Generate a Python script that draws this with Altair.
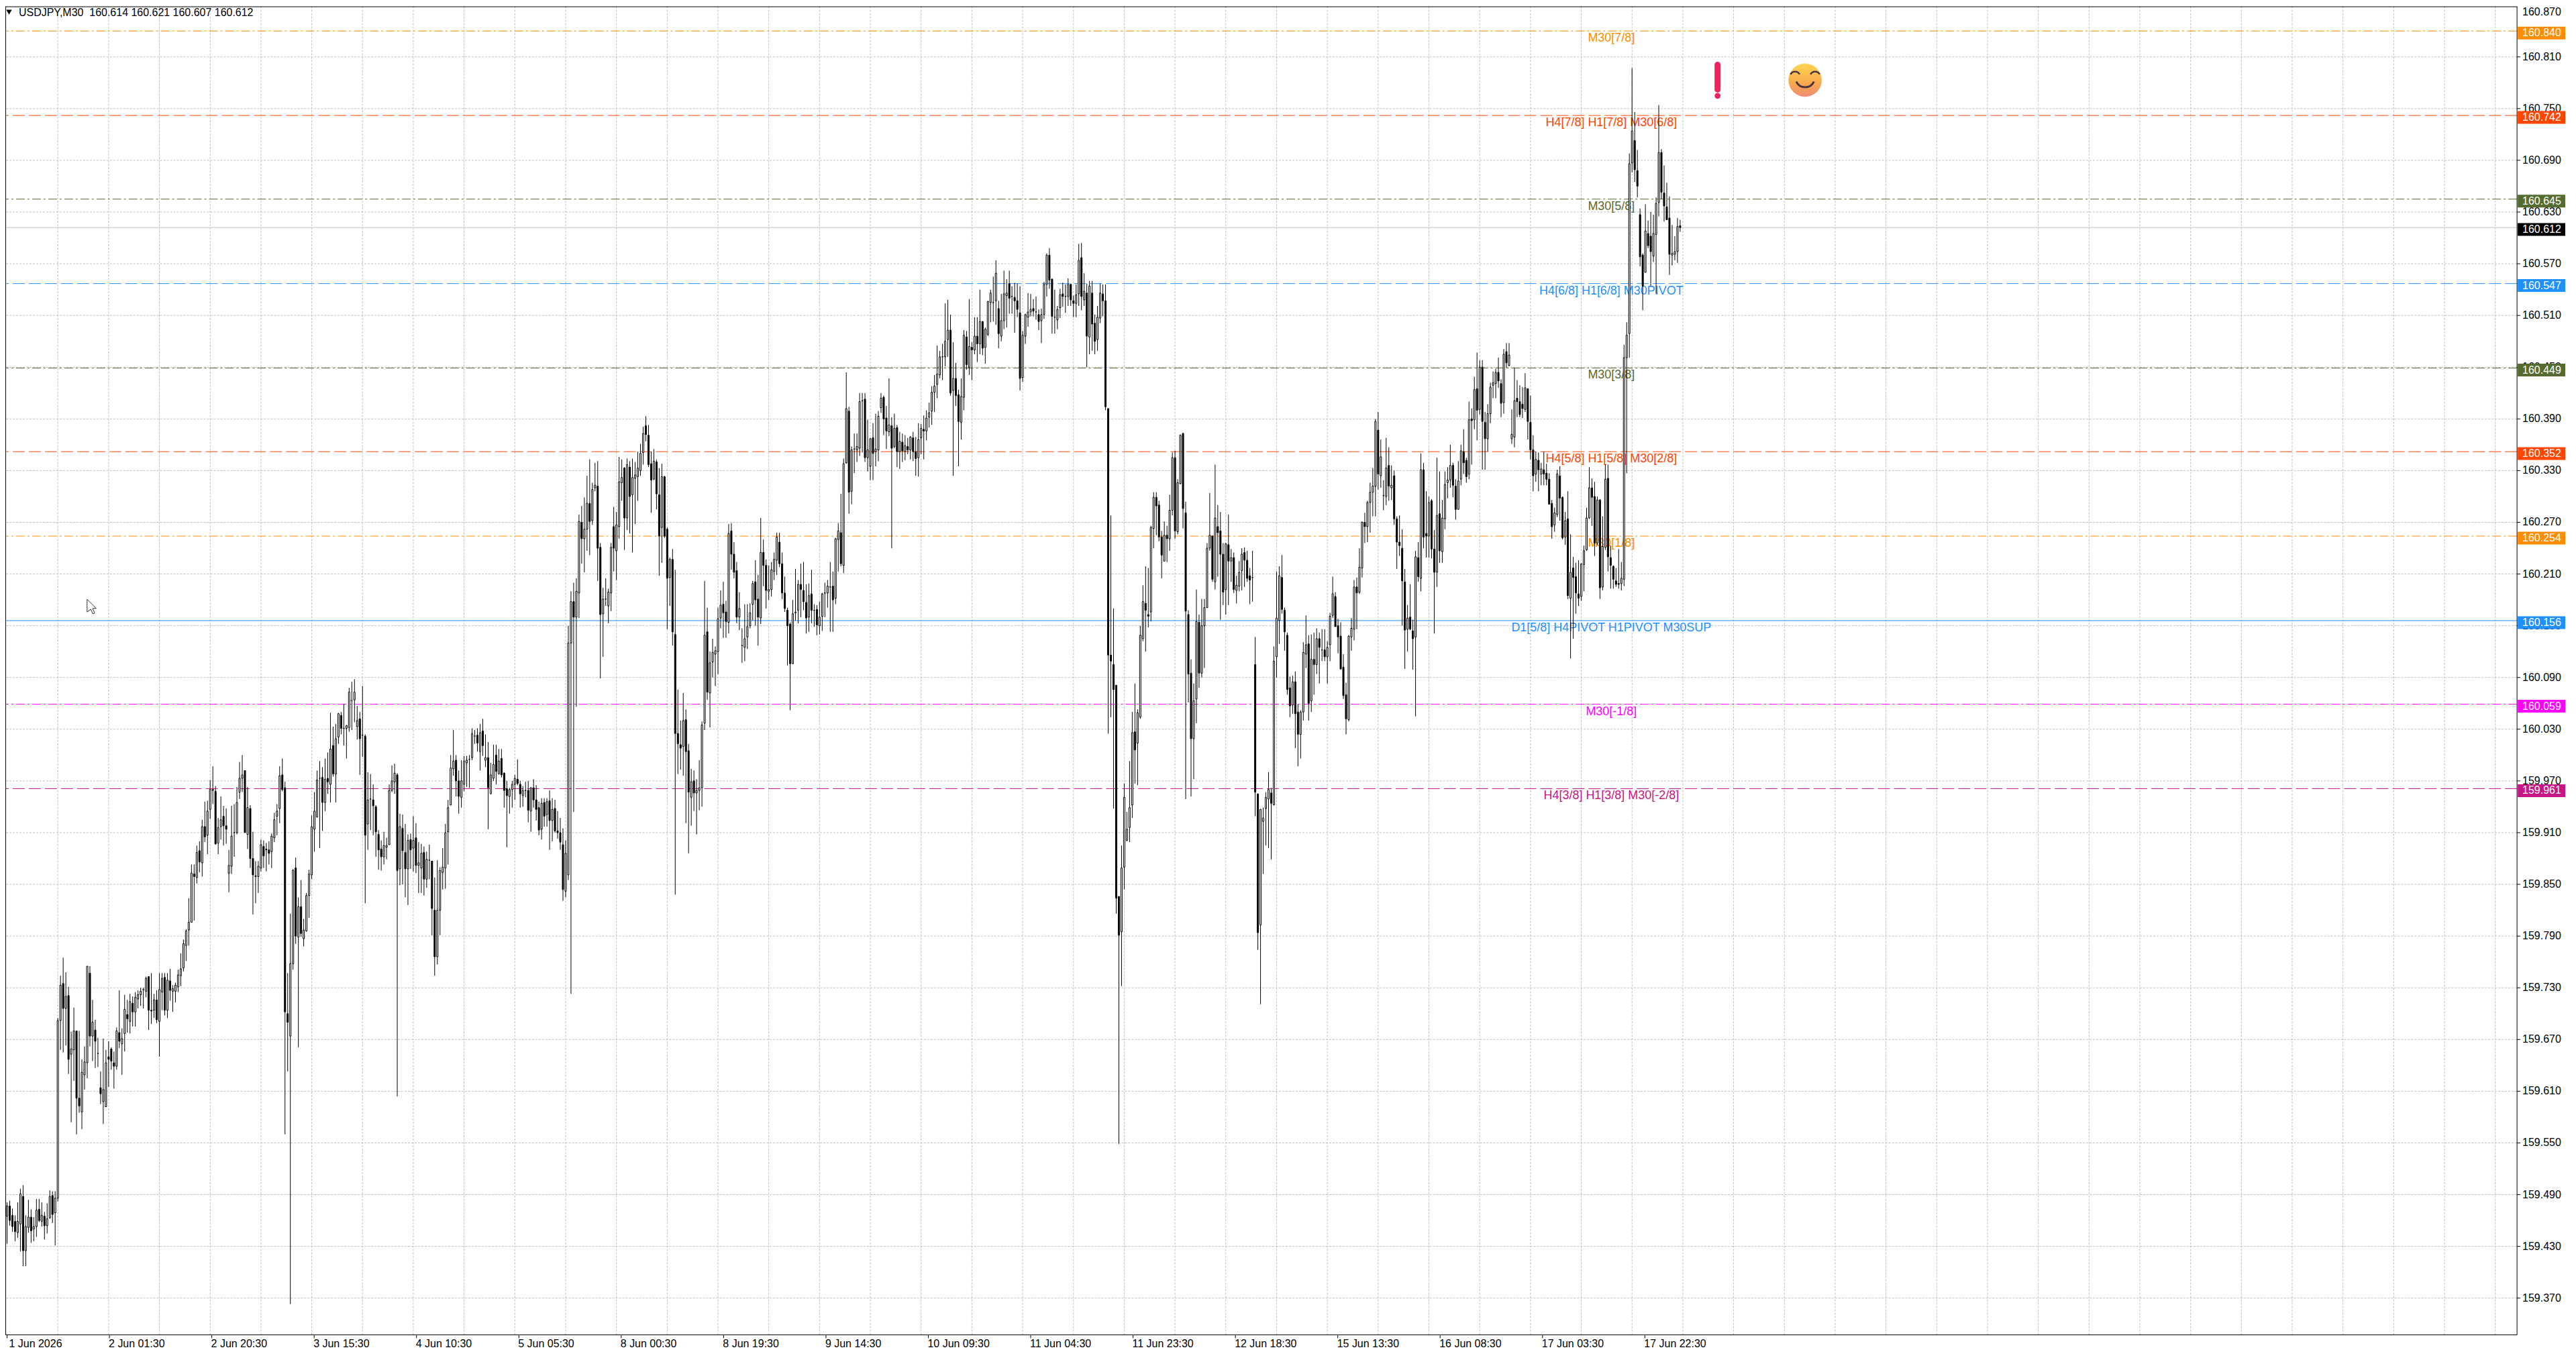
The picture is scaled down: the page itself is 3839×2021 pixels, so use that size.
import altair as alt
import pandas as pd

# Each bar: open, close, high, low, in thousandths of a yen above 159
seg_a = [(465,477,481,433),(477,460,483,454),(466,453,474,447),(459,447,466,436),(446,459,481,440),(456,491,497,424),(488,425,501,407),(425,453,466,407),(452,464,484,446),(464,448,473,434),
(450,453,464,436),(453,472,485,441),(473,460,485,458),(459,466,481,453),(465,454,470,438),(454,462,480,445),(463,488,495,462),(489,467,494,457),(469,486,494,431),(486,692,695,482),
(692,733,744,658),(735,706,765,655),(706,720,748,663),(721,647,731,630),(653,659,679,574),(658,680,707,622),(680,602,680,560),(602,593,680,585),(586,632,647,566),(629,644,662,612),
(643,755,755,625),(747,674,755,662),(674,690,716,645),(681,668,693,637),(654,654,672,638),(614,607,633,595),(598,612,671,572),(592,643,658,592),(650,647,668,615),(659,645,661,635)]
seg_b = [(643,639,656,613),(639,680,684,635),(678,668,727,660),(665,671,683,629),(677,705,722,656),(699,694,716,678),(691,714,723,677),(712,702,720,685),(702,719,725,685),(717,722,727,706),
(722,726,730,709),(728,728,730,706),(726,741,743,719),(743,704,743,681),(704,703,747,688),(704,716,723,695),(716,693,727,689),(691,728,747,650),(725,741,747,704),(742,704,747,698),
(704,739,747,695),(738,727,752,715),(726,729,733,702),(726,733,736,713),(731,745,751,725),(744,752,770,732),(753,781,786,749),(779,796,798,761),(797,806,834,779),(806,863,873,806),
(862,859,873,808),(858,887,895,851),(889,876,900,864),(875,917,925,859),(917,905,946,899),(907,935,947,885),(937,960,971,926),(960,959,987,943),(958,897,964,896),(898,916,927,885)]
seg_c = [(917,925,952,902),(929,918,941,895),(918,914,938,897),(863,872,890,841),(871,906,941,862),(910,910,943,882),(910,945,963,908),(957,973,992,949),(973,977,1000,957),(982,910,982,910),
(908,939,963,891),(938,880,942,869),(880,861,911,815),(860,859,877,828),(859,871,877,840),(869,896,902,865),(894,883,901,869),(891,890,898,865),(890,886,900,873),(888,906,909,869),
(904,925,933,899),(929,935,943,907),(938,976,987,921),(977,960,996,958),(962,702,969,560),(700,690,747,633),(674,758,816,363),(758,866,868,751),(869,790,881,781),(789,824,835,661),
(824,793,855,789),(787,797,810,778),(796,837,840,795),(837,862,867,811),(861,917,930,856),(914,935,957,888),(928,971,982,928),(973,973,993,892),(974,945,986,912),(945,972,996,935)]
seg_d = [(973,969,1003,955),(966,1007,1049,945),(1011,978,1033,975),(978,1019,1036,945),(1021,1048,1049,1013),(1046,1031,1050,1024),(1031,1031,1059,1011),(1031,1034,1035,996),(1032,1073,1078,1027),(1063,1063,1085,1029),
(1064,1073,1088,1038),(1033,1040,1057,1018),(1042,1019,1050,977),(1023,1023,1080,998),(1022,907,1024,828),(920,948,980,890),(949,949,978,913),(948,941,966,907),(940,911,942,882),(908,890,913,867),
(891,882,901,866),(882,895,911,873),(893,895,904,879),(896,959,966,896),(959,970,988,957),(969,979,990,955),(977,866,979,604),(868,917,932,849),(915,889,931,850),(887,868,920,835),
(868,901,908,826),(902,890,909,868),(892,901,929,865),(904,872,921,863),(872,875,899,840),(869,886,897,840),(887,856,894,837),(856,879,888,846),(878,878,896,856),(877,822,877,791)]
seg_e = [(820,766,858,744),(766,820,878,757),(820,866,870,791),(864,870,892,844),(869,910,920,845),(911,939,948,873),(942,985,1000,942),(984,993,1029,976),(994,970,1000,952),(970,952,982,932),
(951,970,994,939),(966,993,999,958),(991,994,999,963),(995,995,1000,962),(997,1025,1031,994),(1022,1022,1029,1013),(1023,1014,1031,1004),(1004,1026,1036,982),(1028,1011,1042,999),(994,997,1024,986),
(997,962,1015,914),(955,977,991,955),(973,989,1012,970),(1000,981,1012,966),(978,993,1007,978),(996,977,1007,974),(979,959,980,939),(961,953,970,893),(952,960,962,932),(960,966,970,939),
(966,973,977,948),(972,967,995,965),(966,955,970,939),(953,959,964,940),(959,959,969,951),(959,936,970,922),(935,962,963,911),(962,948,972,939),(948,937,965,924),(939,913,946,907)]
seg_f = [(914,944,950,902),(945,929,950,917),(931,946,950,917),(947,924,959,890),(924,937,950,900),(938,912,948,910),(912,910,935,903),(910,899,927,890),(896,844,915,831),(842,886,901,835),
(861,1130,1150,855),(1130,1178,1190,723),(1178,1160,1200,934),(1160,1190,1205,1056),(1188,1271,1279,1159),(1270,1251,1289,1222),(1251,1262,1299,1212),(1262,1292,1324,1237),(1292,1271,1343,1232),(1272,1308,1316,1267),
(1310,1313,1339,1306),(1312,1240,1341,1202),(1241,1163,1246,1089),(1164,1181,1194,1114),(1181,1181,1205,1173),(1173,1189,1193,1153),(1188,1241,1246,1167),(1265,1240,1288,1213),(1237,1267,1282,1203),(1265,1317,1346,1251),
(1316,1322,1343,1295),(1333,1275,1334,1238),(1275,1337,1344,1261),(1334,1300,1341,1257),(1302,1322,1344,1235),(1321,1325,1340,1268),(1323,1333,1352,1295),(1330,1350,1361,1324),(1351,1373,1381,1337),(1382,1372,1393,1364)]
seg_g = [(1371,1337,1383,1334),(1338,1319,1352,1281),(1320,1341,1355,1319),(1340,1303,1343,1285),(1302,1254,1333,1208),(1264,1323,1338,1223),(1323,1254,1324,1252),(1262,1205,1264,1146),(1206,1227,1229,1173),(1227,1143,1239,1127),
(1140,1025,1215,838),(1025,1013,1076,978),(1012,1008,1040,983),(1010,1040,1072,976),(1041,1004,1053,921),(1005,957,1013,886),(951,969,984,918),(970,956,982,935),(956,959,972,908),(959,962,994,936),
(962,1035,1039,940),(1037,1139,1202,1029),(1143,1073,1171,1064),(1072,1107,1120,1032),(1108,1119,1135,1090),(1117,1121,1126,1080),(1120,1158,1171,1094),(1159,1174,1191,1147),(1175,1165,1201,1136),(1166,1155,1179,1136),
(1154,1257,1268,1141),(1260,1233,1269,1215),(1233,1212,1247,1205),(1214,1160,1224,1153),(1160,1170,1189,1145),(1127,1127,1147,1107),(1125,1135,1175,1109),(1137,1149,1175,1123),(1150,1165,1176,1147),(1175,1199,1202,1156)]
seg_h = [(1201,1180,1226,1150),(1181,1160,1209,1127),(1159,1235,1275,1152),(1235,1220,1250,1196),(1220,1191,1227,1170),(1190,1192,1220,1180),(1192,1215,1224,1184),(1213,1227,1235,1203),(1226,1253,1258,1209),(1247,1222,1258,1218),
(1222,1188,1235,1181),(1188,1170,1207,1166),(1168,1150,1171,1104),(1152,1106,1154,1052),(1106,1164,1180,1106),(1165,1166,1216,1156),(1168,1198,1203,1153),(1198,1192,1222,1160),(1191,1178,1224,1168),(1177,1159,1198,1141),
(1160,1185,1199,1143),(1187,1168,1215,1153),(1168,1168,1175,1149),(1169,1151,1174,1139),(1150,1160,1178,1140),(1161,1187,1188,1144),(1188,1188,1200,1160),(1188,1196,1203,1171),(1195,1195,1224,1143),(1196,1180,1213,1143),
(1182,1251,1252,1175),(1250,1260,1269,1213),(1258,1222,1303,1219),(1220,1338,1344,1211),(1339,1402,1444,1338),(1399,1305,1404,1280),(1306,1354,1358,1291),(1355,1355,1373,1327),(1354,1358,1373,1340),(1356,1410,1420,1347)]
seg_i = [(1411,1411,1420,1351),(1413,1345,1420,1340),(1345,1354,1389,1329),(1335,1367,1368,1319),(1368,1350,1385,1319),(1352,1355,1396,1335),(1354,1393,1399,1341),(1403,1414,1420,1397),(1415,1390,1417,1371),(1391,1376,1405,1355),
(1375,1383,1437,1370),(1382,1356,1392,1240),(1358,1379,1396,1356),(1380,1352,1383,1334),(1352,1364,1375,1332),(1363,1353,1373,1340),(1352,1359,1371,1342),(1358,1354,1368,1349),(1354,1369,1370,1343),(1368,1352,1375,1341),
(1352,1344,1369,1324),(1345,1366,1385,1323),(1368,1379,1384,1349),(1378,1376,1394,1343),(1376,1391,1400,1365),(1392,1397,1409,1380),(1399,1421,1428,1383),(1421,1428,1441,1398),(1430,1442,1475,1414),(1441,1462,1469,1437),
(1462,1462,1477,1435),(1462,1480,1524,1451),(1482,1493,1528,1462),(1493,1420,1511,1417),(1423,1437,1479,1324),(1437,1417,1455,1405),(1418,1387,1424,1335),(1386,1416,1437,1366),(1415,1487,1493,1400),(1485,1453,1492,1447)]
seg_j = [(1450,1474,1529,1441),(1473,1470,1479,1435),(1470,1486,1508,1465),(1486,1477,1508,1456),(1477,1503,1540,1465),(1503,1472,1503,1464),(1473,1494,1496,1454),(1488,1526,1527,1486),(1525,1536,1540,1502),(1525,1525,1555,1503),
(1527,1559,1574,1499),(1518,1489,1527,1472),(1486,1504,1535,1480),(1504,1535,1562,1494),(1533,1536,1552,1496),(1547,1530,1562,1512),(1532,1532,1544,1512),(1531,1527,1548,1490),(1527,1517,1547,1508),(1513,1437,1544,1423),
(1438,1487,1492,1433),(1486,1511,1512,1477),(1508,1514,1536,1497),(1514,1517,1535,1509),(1518,1515,1529,1509),(1514,1514,1532,1505),(1511,1503,1517,1493),(1504,1511,1518,1478),(1511,1546,1549,1506),(1546,1580,1582,1532),
(1580,1551,1588,1541),(1552,1509,1553,1489),(1508,1508,1540,1489),(1505,1517,1521,1494),(1519,1534,1541,1507),(1535,1532,1548,1520),(1532,1532,1546,1513),(1532,1546,1553,1521),(1546,1528,1547,1521),(1527,1524,1533,1508)]
seg_k = [(1524,1534,1546,1508),(1535,1574,1593,1521),(1577,1532,1594,1516),(1528,1538,1559,1521),(1536,1486,1547,1450),(1485,1544,1550,1465),(1536,1500,1550,1469),(1501,1480,1511,1465),(1482,1508,1521,1469),(1507,1536,1547,1501),
(1535,1527,1546,1509),(1527,1404,1546,1400),(1402,1116,1402,1025),(1116,1109,1278,1044),(1105,1076,1170,938),(1081,834,1081,816),(836,791,836,549),(795,869,895,732),(870,951,967,844),(901,914,934,900),
(916,939,993,899),(942,1026,1050,927),(1027,1006,1083,967),(1014,1049,1053,965),(1044,1139,1150,1042),(1135,1178,1197,1132),(1176,1168,1219,1120),(1163,1161,1217,1148),(1166,1264,1266,1155),(1263,1299,1305,1240),
(1299,1289,1305,1255),(1290,1253,1295,1248),(1253,1232,1260,1205),(1225,1255,1271,1225),(1255,1251,1266,1224),(1251,1284,1302,1237),(1284,1345,1351,1278),(1345,1260,1353,1251),(1259,1316,1320,1256),(1315,1371,1372,1314)]
seg_l = [(1373,1286,1374,1263),(1281,1167,1294,949),(1163,1094,1168,1061),(1095,1019,1111,952),(1019,1063,1083,972),(1065,1155,1192,1037),(1154,1095,1163,1078),(1095,1150,1181,1090),(1150,1171,1181,1101),(1171,1240,1246,1171),
(1240,1255,1304,1237),(1254,1204,1255,1201),(1201,1275,1337,1192),(1265,1258,1290,1207),(1260,1233,1282,1157),(1233,1189,1246,1174),(1192,1245,1246,1163),(1244,1225,1279,1174),(1225,1229,1239,1201),(1229,1192,1235,1188),
(1191,1197,1208,1176),(1196,1212,1225,1190),(1214,1233,1240,1191),(1235,1226,1241,1195),(1226,1205,1237,1201),(1208,1203,1217,1175),(1206,1206,1237,1178),(1105,957,1137,929),(955,794,955,774),(803,937,937,711),
(923,927,939,862),(938,951,957,895),(949,960,980,892),(956,944,962,879),(942,1109,1126,942),(1114,1159,1213,1090),(1156,1208,1219,1129),(1206,1169,1232,1164),(1168,1143,1171,1121),(1139,1076,1142,1070)]
seg_m = [(1078,1057,1091,1044),(1058,1085,1092,1048),(1085,1048,1097,1008),(1050,1024,1059,987),(1024,1050,1052,996),(1050,1119,1131,1040),(1117,1128,1162,1101),(1129,1060,1139,1040),(1063,1111,1140,1050),(1111,1105,1142,1070),
(1105,1135,1147,1094),(1135,1125,1142,1083),(1122,1122,1146,1109),(1122,1114,1146,1109),(1114,1125,1132,1083),(1128,1161,1165,1109),(1162,1187,1207,1159),(1184,1149,1189,1149),(1150,1137,1158,1118),(1138,1100,1154,1099),
(1102,1069,1117,1065),(1070,1042,1084,1024),(1041,1138,1139,1039),(1137,1147,1159,1121),(1146,1195,1203,1133),(1195,1188,1206,1146),(1189,1218,1240,1187),(1217,1270,1271,1206),(1270,1265,1281,1246),(1265,1293,1295,1247),
(1293,1305,1316,1258),(1305,1312,1333,1277),(1312,1387,1390,1277),(1377,1326,1398,1308),(1324,1346,1366,1310),(1301,1301,1319,1284),(1300,1333,1368,1290),(1336,1312,1357,1295),(1310,1313,1336,1296),(1324,1274,1330,1267)]
seg_n = [(1274,1247,1277,1216),(1247,1243,1278,1231),(1240,1202,1262,1150),(1201,1145,1216,1100),(1146,1159,1174,1120),(1160,1146,1198,1145),(1144,1135,1157,1099),(1137,1230,1237,1045),(1229,1207,1247,1201),(1205,1331,1350,1190),
(1331,1253,1339,1240),(1257,1254,1306,1229),(1254,1293,1300,1229),(1295,1239,1297,1228),(1239,1212,1261,1141),(1212,1278,1345,1195),(1280,1237,1329,1223),(1236,1275,1296,1223),(1274,1314,1329,1262),(1316,1319,1334,1298),
(1319,1336,1360,1310),(1336,1313,1339,1299),(1312,1285,1320,1273),(1285,1318,1341,1285),(1320,1353,1360,1313),(1352,1339,1378,1326),(1342,1323,1345,1316),(1326,1389,1410,1320),(1390,1388,1402,1337),(1389,1424,1439,1378),
(1425,1400,1467,1365),(1401,1450,1458,1395),(1450,1387,1458,1331),(1386,1367,1398,1331),(1367,1396,1407,1352),(1396,1427,1432,1385),(1429,1432,1445,1414),(1431,1444,1448,1414),(1444,1434,1461,1426),(1431,1408,1436,1392)]
seg_o = [(1409,1465,1471,1396),(1468,1455,1478,1449),(1452,1464,1478,1451),(1367,1372,1401,1361),(1369,1411,1449,1357),(1414,1410,1435,1392),(1410,1395,1429,1392),(1407,1402,1427,1391),(1401,1426,1443,1398),(1425,1387,1425,1366),
(1386,1354,1417,1343),(1354,1324,1371,1306),(1326,1343,1352,1317),(1342,1331,1351,1306),(1326,1332,1339,1313),(1331,1326,1352,1313),(1327,1320,1338,1313),(1320,1291,1327,1291),(1292,1265,1296,1251),(1267,1281,1287,1259),
(1279,1326,1331,1276),(1324,1298,1335,1272),(1299,1252,1300,1250),(1253,1272,1282,1244),(1274,1185,1306,1181),(1182,1212,1256,1112),(1217,1206,1230,1135),(1207,1188,1223,1164),(1187,1182,1226,1173),(1184,1222,1222,1179),
(1221,1237,1243,1190),(1238,1275,1287,1237),(1275,1310,1334,1274),(1310,1299,1321,1266),(1300,1246,1317,1231),(1246,1296,1300,1243),(1296,1194,1297,1181),(1195,1242,1277,1191),(1241,1320,1337,1238),(1321,1230,1337,1213)]
seg_p = [(1229,1220,1243,1193),(1219,1204,1220,1193),(1202,1198,1217,1195),(1199,1198,1239,1193),(1199,1205,1224,1191),(1204,1461,1476,1196),(1461,1487,1502,1327),(1489,1686,1698,1461),(1687,1724,1797,1676),(1713,1679,1746,1665),
(1678,1660,1702,1647),(1627,1578,1634,1567),(1580,1544,1582,1516),(1560,1608,1639,1560),(1605,1591,1620,1588),(1602,1584,1630,1544),(1579,1605,1627,1572),(1604,1640,1647,1535),(1641,1699,1754,1625),(1699,1653,1703,1645),
(1652,1637,1684,1619),(1636,1621,1664,1621),(1623,1581,1648,1557),(1580,1582,1615,1568),(1581,1584,1602,1574),(1584,1613,1623,1571),(1614,1612,1621,1607)]

level_prices = [160.840,160.742,160.645,160.547,160.449,160.352,160.254,160.156,160.059,159.961]
level_colors = ["#FF8C00","#FF4500","#556B2F","#1E90FF","#556B2F","#FF4500","#FF8C00","#1E90FF","#FF00FF","#C71585"]
level_styles = ["dashdot","dash","dashdot","dash","dashdot","dash","dashdot","solid","dashdot","dash"]
level_names = ["M30[7/8]","H4[7/8] H1[7/8] M30[6/8]","M30[5/8]","H4[6/8] H1[6/8] M30PIVOT","M30[3/8]",
               "H4[5/8] H1[5/8] M30[2/8]","M30[1/8]","D1[5/8] H4PIVOT H1PIVOT M30SUP","M30[-1/8]","H4[3/8] H1[3/8] M30[-2/8]"]
last_price = 160.612
date_labels = ["1 Jun 2026","2 Jun 01:30","2 Jun 20:30","3 Jun 15:30","4 Jun 10:30","5 Jun 05:30","8 Jun 00:30","8 Jun 19:30",
               "9 Jun 14:30","10 Jun 09:30","11 Jun 04:30","11 Jun 23:30","12 Jun 18:30","15 Jun 13:30","16 Jun 08:30","17 Jun 03:30","17 Jun 22:30"]
price_ticks = [round(159.37+0.06*k, 3) for k in range(25)]
header = "USDJPY,M30\u00a0\u00a0160.614 160.621 160.607 160.612"

W, H = 3749, 1983
FONT = "Liberation Sans"
rows = seg_a+seg_b+seg_c+seg_d+seg_e+seg_f+seg_g+seg_h+seg_i+seg_j+seg_k+seg_l+seg_m+seg_n+seg_o+seg_p
bars = pd.DataFrame(rows, columns=["o","c","h","l"])
for col in "ochl":
    bars[col] = 159 + bars[col]/1000
bars["i"] = range(len(bars))
bars["lo"] = bars[["o","c"]].min(axis=1)
bars["hi"] = bars[["o","c"]].max(axis=1)
bars["fill"] = ["#ffffff" if c >= o else "#000000" for o, c in zip(bars.o, bars.c)]

xs = alt.Scale(domain=[0.625, 937.875], nice=False, zero=False)
ys = alt.Scale(domain=[159.32737, 160.86852], nice=False, zero=False)
X = lambda f: alt.X(f, type="quantitative", scale=xs, axis=None)
Y = lambda f: alt.Y(f, type="quantitative", scale=ys, axis=None)

levels = pd.DataFrame({"p":level_prices,"col":level_colors,"style":level_styles,"name":level_names})
levels["hi"] = levels.p + 0.0051
levels["lo"] = levels.p - 0.0097
levels["x"] = 600.25
levels["txt"] = levels.p.map(lambda v: f"{v:.3f}")
tags = pd.concat([levels[["p","hi","lo","col","txt"]],
                  pd.DataFrame({"p":[last_price],"hi":[last_price+0.0051],"lo":[last_price-0.0097],"col":["#000000"],"txt":[f"{last_price:.3f}"]})])
tick_df = pd.DataFrame({"t":price_ticks})
vgrid = pd.DataFrame({"x":[19+19*k for k in range(49)]})
dates = pd.DataFrame({"x":[38.3*k for k in range(len(date_labels))],"lab":date_labels})
dates["lx"] = dates.x - 0.25
dates.loc[0,"lx"] = 0.75

grid_h = alt.Chart(tick_df).mark_rule(color="#c0c0c0", strokeDash=[3,2], strokeWidth=1).encode(y=Y("t"))
grid_v = alt.Chart(vgrid).mark_rule(color="#c0c0c0", strokeDash=[3,2], strokeWidth=1).encode(x=X("x"))
price_tick_marks = alt.Chart(tick_df).mark_rule(color="#000000").encode(x=alt.value(W), x2=alt.value(W+5), y=Y("t"))
price_tick_text = alt.Chart(tick_df).mark_text(font=FONT, fontSize=16, color="#000000", align="left", baseline="middle").encode(
    x=alt.value(3757), y=Y("t"), text=alt.Text("t:Q", format=".3f"))

def level_layer(style, dash):
    m = {"strokeWidth":1}
    if dash: m["strokeDash"] = dash
    return alt.Chart(levels[levels["style"]==style]).mark_rule(**m).encode(y=Y("p"), color=alt.Color("col:N", scale=None))

lines = [level_layer("dash",[18,6]), level_layer("dashdot",[13,4,3,4]), level_layer("solid",None)]
last_line = alt.Chart(pd.DataFrame({"p":[last_price]})).mark_rule(color="#c0c0c0", strokeWidth=1).encode(y=Y("p"))
level_text = alt.Chart(levels).mark_text(font=FONT, fontSize=18, align="center", baseline="middle", dy=11).encode(
    x=X("x"), y=Y("p"), text="name:N", color=alt.Color("col:N", scale=None))
wicks = alt.Chart(bars).mark_rule(color="#000000", strokeWidth=1).encode(x=X("i"), y=Y("l"), y2="h:Q")
bodies = alt.Chart(bars).mark_bar(size=2, orient="vertical", stroke="#000000", strokeWidth=1).encode(
    x=X("i"), y=Y("lo"), y2="hi:Q", fill=alt.Fill("fill:N", scale=None))
tag_rect = alt.Chart(tags).mark_rect().encode(x=alt.value(3750), x2=alt.value(3821), y=Y("hi"), y2="lo:Q", color=alt.Color("col:N", scale=None))
tag_text = alt.Chart(tags).mark_text(font=FONT, fontSize=16, color="#ffffff", align="left", baseline="middle", dy=3).encode(
    x=alt.value(3757), y=Y("p"), text="txt:N")
top_label = alt.Chart(pd.DataFrame({"t":["160.870"]})).mark_text(font=FONT, fontSize=16, color="#000000", align="left", baseline="top").encode(
    x=alt.value(3757), y=alt.value(0), text="t:N")
frame_b = alt.Chart(pd.DataFrame({"a":[0]})).mark_rule(color="#000000").encode(x=alt.value(0), x2=alt.value(W), y=alt.value(H))
frame_l = alt.Chart(pd.DataFrame({"a":[0]})).mark_rule(color="#000000").encode(y=alt.value(0), y2=alt.value(H), x=alt.value(0.5))
frame_t = alt.Chart(pd.DataFrame({"a":[0]})).mark_rule(color="#000000").encode(x=alt.value(0), x2=alt.value(W), y=alt.value(0.5))
frame_r = alt.Chart(pd.DataFrame({"a":[0]})).mark_rule(color="#000000").encode(y=alt.value(0), y2=alt.value(H), x=alt.value(W))
date_ticks = alt.Chart(dates).mark_rule(color="#000000").encode(x=X("x"), y=alt.value(H), y2=alt.value(H+5))
date_text = alt.Chart(dates).mark_text(font=FONT, fontSize=16, color="#000000", align="left", baseline="middle").encode(
    x=X("lx"), y=alt.value(H+14), text="lab:N")
head = alt.Chart(pd.DataFrame({"t":[header]})).mark_text(font=FONT, fontSize=16, color="#000000", align="left", baseline="middle").encode(
    x=alt.value(20), y=alt.value(9), text="t:N")
tri = alt.Chart(pd.DataFrame({"a":[0]})).mark_point(shape="triangle-down", filled=True, color="#000000", size=70, opacity=1).encode(
    x=alt.value(5.5), y=alt.value(8.5))
cursor = alt.Chart(pd.DataFrame({"a":[0]})).mark_point(shape="M0,0 L0,1 L0.28,0.78 L0.45,1.15 L0.6,1.08 L0.43,0.72 L0.72,0.72 Z",
    filled=True, fill="#ffffff", stroke="#333333", strokeWidth=1, size=1444, opacity=1).encode(x=alt.value(122), y=alt.value(885))

# Icons drawn on the chart next to the last bars
bang = alt.Chart(pd.DataFrame({"x":[640.0],"y":[160.8009],"y2":[160.7721]})).mark_rule(color="#F0245F", strokeWidth=9, strokeCap="round").encode(x=X("x"), y=Y("y"), y2="y2:Q")
bang_dot = alt.Chart(pd.DataFrame({"x":[640.0],"y":[160.7648]})).mark_circle(color="#F0245F", size=78, opacity=1).encode(x=X("x"), y=Y("y"))
face_fill = alt.Gradient(gradient="linear", x1=0, x2=0, y1=0, y2=1, stops=[
    alt.GradientStop(color="#FFD54F", offset=0), alt.GradientStop(color="#F7A54F", offset=0.65), alt.GradientStop(color="#EE8C78", offset=1)])
face = alt.Chart(pd.DataFrame({"x":[672.75],"y":[160.783]})).mark_circle(fill=face_fill, size=2463, opacity=1).encode(x=X("x"), y=Y("y"))
eyes = alt.Chart(pd.DataFrame({"x":[669.0,676.5],"y":[160.7869,160.7869]})).mark_arc(radius=9, radius2=6.5, theta=5.2, theta2=7.36, color="#4A3540").encode(x=X("x"), y=Y("y"))
mouth = alt.Chart(pd.DataFrame({"x":[672.75],"y":[160.786]})).mark_arc(radius=16, radius2=13, theta=2.0, theta2=4.28, color="#4A3540").encode(x=X("x"), y=Y("y"))

chart = alt.layer(grid_h, grid_v, *lines, last_line, price_tick_marks, price_tick_text, level_text, wicks, bodies, tag_rect, tag_text, top_label,
                  frame_b, frame_l, frame_t, frame_r, date_ticks, date_text, head, tri, cursor,
                  bang, bang_dot, face, eyes, mouth).properties(
    width=W, height=H, padding={"left":0,"top":0,"right":80,"bottom":25},
    autosize=alt.AutoSizeParams(type="none"), background="#ffffff"
).configure_view(stroke=None)
chart.save("out.html", embed_options={"renderer": "svg", "actions": False})
